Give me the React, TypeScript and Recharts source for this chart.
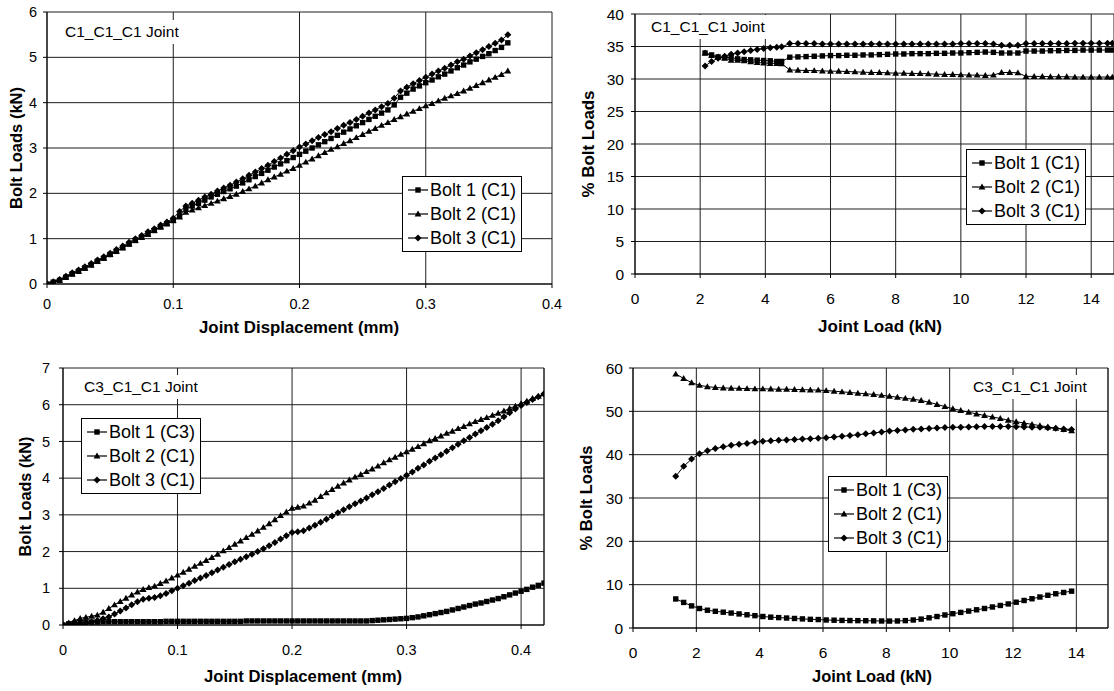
import {
  LineChart,
  Line,
  XAxis,
  YAxis,
  CartesianGrid,
  Legend,
  ReferenceLine,
} from "recharts";

const FONT = "'Liberation Sans', Arial, Helvetica, sans-serif";
const INK = "#000000";
const GRID = "#1e1e1e";

// top left: C1_C1_C1 joint, bolt load (kN) vs joint displacement (mm)
const dispC1 = [
  0, 0.005, 0.01, 0.015, 0.02, 0.025, 0.03, 0.035, 0.04, 0.045,
  0.05, 0.055, 0.06, 0.065, 0.07, 0.075, 0.08, 0.085, 0.09, 0.095,
  0.1, 0.105, 0.11, 0.115, 0.12, 0.125, 0.13, 0.135, 0.14, 0.145,
  0.15, 0.155, 0.16, 0.165, 0.17, 0.175, 0.18, 0.185, 0.19, 0.195,
  0.2, 0.205, 0.21, 0.215, 0.22, 0.225, 0.23, 0.235, 0.24, 0.245,
  0.25, 0.255, 0.26, 0.265, 0.27, 0.275, 0.28, 0.285, 0.29, 0.295,
  0.3, 0.305, 0.31, 0.315, 0.32, 0.325, 0.33, 0.335, 0.34, 0.345,
  0.35, 0.355, 0.36, 0.365,
];
const loadC1Bolt1 = [
  0, 0.04, 0.08, 0.15, 0.22, 0.28, 0.35, 0.42, 0.5, 0.57,
  0.65, 0.72, 0.8, 0.88, 0.96, 1.03, 1.1, 1.18, 1.26, 1.33,
  1.4, 1.5, 1.65, 1.72, 1.78, 1.85, 1.92, 1.98, 2.04, 2.1,
  2.16, 2.23, 2.3, 2.37, 2.44, 2.51, 2.58, 2.65, 2.72, 2.79,
  2.86, 2.93, 3.0, 3.07, 3.14, 3.21, 3.28, 3.35, 3.42, 3.49,
  3.56, 3.63, 3.7, 3.77, 3.84, 3.95, 4.12, 4.21, 4.3, 4.37,
  4.44, 4.5, 4.57, 4.63, 4.7, 4.77, 4.83, 4.9, 4.96, 5.02,
  5.08, 5.15, 5.22, 5.32,
];
const loadC1Bolt2 = [
  0, 0.04, 0.08, 0.15, 0.22, 0.28, 0.35, 0.42, 0.5, 0.57,
  0.65, 0.72, 0.8, 0.88, 0.96, 1.03, 1.1, 1.18, 1.26, 1.33,
  1.4, 1.48, 1.58, 1.63, 1.68, 1.73, 1.78, 1.83, 1.88, 1.93,
  1.98, 2.04, 2.1, 2.16, 2.23, 2.3, 2.36, 2.42, 2.49, 2.55,
  2.62, 2.69, 2.76, 2.83, 2.9, 2.97, 3.03, 3.1, 3.16, 3.23,
  3.3, 3.37, 3.43, 3.5, 3.56, 3.63, 3.69, 3.75, 3.81, 3.87,
  3.93, 3.98, 4.04, 4.1, 4.15, 4.2, 4.26, 4.32, 4.38, 4.44,
  4.5, 4.56, 4.62, 4.7,
];
const loadC1Bolt3 = [
  0, 0.05, 0.1, 0.17, 0.25, 0.31, 0.38, 0.45, 0.53, 0.6,
  0.68, 0.76, 0.84, 0.92, 1.0, 1.07, 1.15, 1.22, 1.3, 1.37,
  1.45, 1.6, 1.72, 1.78, 1.85, 1.92, 1.98, 2.05, 2.12, 2.18,
  2.25, 2.32, 2.4, 2.47, 2.55, 2.62, 2.7, 2.78, 2.86, 2.94,
  3.02, 3.09, 3.16, 3.23, 3.3, 3.36, 3.43, 3.5, 3.56, 3.63,
  3.7, 3.77, 3.84, 3.91, 3.98, 4.1, 4.26, 4.34, 4.42, 4.49,
  4.56, 4.63, 4.7, 4.76, 4.83, 4.9, 4.96, 5.03, 5.1, 5.17,
  5.24, 5.31, 5.38, 5.5,
];

// top right: C1_C1_C1 joint, % bolt load vs joint load (kN)
const jointLoadC1 = [
  2.15, 2.35, 2.55, 2.75, 2.95, 3.15, 3.35, 3.55, 3.75, 3.95, 4.15, 4.35, 4.5, 4.75, 5, 5.25, 5.5, 5.75, 6, 6.25,
  6.5, 6.75, 7, 7.25, 7.5, 7.75, 8, 8.25, 8.5, 8.75, 9, 9.25, 9.5, 9.75, 10, 10.25, 10.5, 10.75, 11, 11.25, 11.5,
  11.75, 12, 12.25, 12.5, 12.75, 13, 13.25, 13.5, 13.75, 14, 14.25, 14.5, 14.65,
];
const pctC1Bolt1 = [
  34.0, 33.7, 33.4, 33.3, 33.3, 33.1, 33.0, 32.95, 32.9, 32.85, 32.8, 32.7, 32.7, 33.35, 33.4, 33.45, 33.5, 33.55,
  33.6, 33.6, 33.65, 33.65, 33.7, 33.7, 33.75, 33.8, 33.85, 33.85, 33.9, 33.9, 33.9, 33.95, 33.95, 34.0, 34.0,
  34.05, 34.1, 34.15, 34.1, 34.0, 34.0, 34.0, 34.3, 34.3, 34.3, 34.35, 34.35, 34.4, 34.4, 34.45, 34.45, 34.45,
  34.45, 34.45,
];
const pctC1Bolt2 = [
  34.0, 33.6, 33.4, 33.2, 32.9, 32.9, 32.8, 32.65, 32.55, 32.45, 32.4, 32.4, 32.35, 31.4, 31.35, 31.3, 31.3, 31.25,
  31.2, 31.2, 31.15, 31.1, 31.05, 31.0, 31.0, 30.95, 30.9, 30.9, 30.85, 30.85, 30.8, 30.75, 30.7, 30.7, 30.65,
  30.6, 30.6, 30.55, 30.6, 31.0, 31.0, 30.95, 30.4, 30.4, 30.4, 30.35, 30.35, 30.35, 30.3, 30.3, 30.3, 30.3, 30.3,
  30.3,
];
const pctC1Bolt3 = [
  32.0, 32.7, 33.2, 33.5, 33.8, 34.0, 34.2, 34.4, 34.55, 34.7, 34.8, 34.9, 34.95, 35.45, 35.45, 35.45, 35.45, 35.4,
  35.4, 35.4, 35.4, 35.4, 35.4, 35.4, 35.4, 35.4, 35.4, 35.4, 35.4, 35.4, 35.4, 35.4, 35.4, 35.4, 35.45, 35.45,
  35.45, 35.45, 35.4, 35.2, 35.2, 35.2, 35.45, 35.45, 35.45, 35.45, 35.45, 35.45, 35.5, 35.5, 35.5, 35.5, 35.5,
  35.5,
];

// bottom left: C3_C1_C1 joint, bolt load (kN) vs joint displacement (mm)
const dispC3 = [
  0, 0.005, 0.01, 0.015, 0.02, 0.025, 0.03, 0.035, 0.04, 0.045,
  0.05, 0.055, 0.06, 0.065, 0.07, 0.075, 0.08, 0.085, 0.09, 0.095,
  0.1, 0.105, 0.11, 0.115, 0.12, 0.125, 0.13, 0.135, 0.14, 0.145,
  0.15, 0.155, 0.16, 0.165, 0.17, 0.175, 0.18, 0.185, 0.19, 0.195,
  0.2, 0.205, 0.21, 0.215, 0.22, 0.225, 0.23, 0.235, 0.24, 0.245,
  0.25, 0.255, 0.26, 0.265, 0.27, 0.275, 0.28, 0.285, 0.29, 0.295,
  0.3, 0.305, 0.31, 0.315, 0.32, 0.325, 0.33, 0.335, 0.34, 0.345,
  0.35, 0.355, 0.36, 0.365, 0.37, 0.375, 0.38, 0.385, 0.39, 0.395,
  0.4, 0.405, 0.41, 0.415, 0.42,
];
const loadC3Bolt1 = [
  0, 0.03, 0.05, 0.07, 0.08, 0.08, 0.08, 0.09, 0.09, 0.09,
  0.09, 0.09, 0.09, 0.09, 0.09, 0.09, 0.09, 0.09, 0.1, 0.1,
  0.1, 0.1, 0.1, 0.1, 0.1, 0.1, 0.1, 0.1, 0.1, 0.1,
  0.1, 0.1, 0.11, 0.11, 0.11, 0.11, 0.11, 0.11, 0.11, 0.11,
  0.11, 0.11, 0.11, 0.11, 0.11, 0.11, 0.11, 0.11, 0.11, 0.11,
  0.11, 0.11, 0.11, 0.11, 0.12, 0.13, 0.14, 0.15, 0.16, 0.17,
  0.18, 0.2, 0.22, 0.25, 0.28, 0.31, 0.34, 0.37, 0.41, 0.45,
  0.49, 0.53, 0.57, 0.6, 0.64, 0.68, 0.72, 0.77, 0.82, 0.87,
  0.92, 0.97, 1.03, 1.08, 1.14,
];
const loadC3Bolt2 = [
  0, 0.06, 0.12, 0.18, 0.21, 0.24, 0.27, 0.35, 0.45, 0.55,
  0.64, 0.73, 0.82, 0.9, 0.97, 1.02, 1.06, 1.13, 1.2, 1.28,
  1.36, 1.44, 1.52, 1.6, 1.68, 1.76, 1.84, 1.93, 2.02, 2.11,
  2.2, 2.29, 2.38, 2.47, 2.56, 2.66, 2.76, 2.87, 2.98, 3.08,
  3.18, 3.21, 3.24, 3.32, 3.4, 3.5, 3.6, 3.69, 3.78, 3.87,
  3.95, 4.03, 4.1, 4.18, 4.25, 4.33, 4.42, 4.5, 4.57, 4.65,
  4.72, 4.79, 4.86, 4.94, 5.02, 5.08, 5.15, 5.22, 5.28, 5.35,
  5.41, 5.48, 5.54, 5.6, 5.65, 5.71, 5.77, 5.83, 5.9, 5.96,
  6.03, 6.1, 6.17, 6.23, 6.3,
];
const loadC3Bolt3 = [
  0, 0.01, 0.02, 0.03, 0.05, 0.08, 0.12, 0.17, 0.22, 0.3,
  0.38, 0.46, 0.55, 0.63, 0.7, 0.73, 0.75, 0.8, 0.86, 0.93,
  1.0, 1.07, 1.14, 1.21, 1.28, 1.35, 1.42, 1.5, 1.57, 1.65,
  1.72, 1.79, 1.86, 1.93, 2.0, 2.08, 2.16, 2.25, 2.34, 2.43,
  2.52, 2.54, 2.57, 2.64, 2.72, 2.8, 2.88, 2.97, 3.06, 3.14,
  3.22, 3.3, 3.38, 3.46, 3.55, 3.63, 3.72, 3.81, 3.9, 3.99,
  4.08, 4.17, 4.27, 4.36, 4.46, 4.55, 4.64, 4.73, 4.83, 4.92,
  5.02, 5.11, 5.2, 5.29, 5.38, 5.47, 5.56, 5.67, 5.78, 5.88,
  5.98, 6.06, 6.14, 6.22, 6.3,
];

// bottom right: C3_C1_C1 joint, % bolt load vs joint load (kN)
const jointLoadC3 = [
  1.35, 1.6, 1.85, 2.1, 2.35, 2.6, 2.85, 3.1, 3.35, 3.6, 3.85, 4.1, 4.35, 4.6, 4.85, 5.1, 5.35, 5.6, 5.85, 6.1,
  6.35, 6.6, 6.85, 7.1, 7.35, 7.6, 7.85, 8.1, 8.35, 8.6, 8.85, 9.1, 9.35, 9.6, 9.85, 10.1, 10.35, 10.6, 10.85,
  11.1, 11.35, 11.6, 11.85, 12.1, 12.35, 12.6, 12.85, 13.1, 13.35, 13.6, 13.85,
];
const pctC3Bolt1 = [
  6.7, 5.9, 5.1, 4.5, 4.1, 3.85, 3.65, 3.45, 3.25, 3.05, 2.85, 2.65, 2.5, 2.4, 2.3, 2.2, 2.1, 2.0, 1.95, 1.85, 1.8,
  1.75, 1.72, 1.7, 1.68, 1.65, 1.62, 1.6, 1.62, 1.7, 1.85, 2.05, 2.35, 2.65, 3.0, 3.3, 3.6, 3.9, 4.2, 4.5, 4.85,
  5.2, 5.55, 5.95, 6.35, 6.75, 7.15, 7.55, 7.9, 8.2, 8.5,
];
const pctC3Bolt2 = [
  58.6, 57.6, 56.6, 56.0, 55.7, 55.5, 55.4, 55.35, 55.3, 55.25, 55.2, 55.2, 55.15, 55.1, 55.1, 55.05, 55.0, 54.95,
  54.9, 54.8, 54.65, 54.5, 54.35, 54.2, 54.05, 53.9, 53.7, 53.5, 53.25, 53.0, 52.8, 52.5, 52.1, 51.6, 51.1, 50.6,
  50.2, 49.8, 49.4, 49.05, 48.7, 48.35, 47.95, 47.6, 47.3, 47.0, 46.7, 46.4, 46.1, 45.8, 45.5,
];
const pctC3Bolt3 = [
  35.0, 37.3, 39.0, 40.2, 40.9, 41.4, 41.8, 42.15, 42.4, 42.6, 42.85, 43.1, 43.2, 43.3, 43.4, 43.5, 43.6, 43.7,
  43.8, 43.9, 44.05, 44.25, 44.4, 44.6, 44.8, 45.0, 45.25, 45.45, 45.6, 45.7, 45.85, 45.95, 46.05, 46.15, 46.25,
  46.3, 46.35, 46.4, 46.45, 46.5, 46.5, 46.5, 46.5, 46.45, 46.4, 46.35, 46.3, 46.2, 46.1, 45.95, 45.8,
];

const NAMES_C1 = ["Bolt 1 (C1)", "Bolt 2 (C1)", "Bolt 3 (C1)"];
const NAMES_C3 = ["Bolt 1 (C3)", "Bolt 2 (C1)", "Bolt 3 (C1)"];

type Row = { x: number; b1: number; b2: number; b3: number };
type Shape = "square" | "triangle" | "diamond";

const SHAPE_BY_KEY: Record<string, Shape> = { b1: "square", b2: "triangle", b3: "diamond" };

function toRows(xs: number[], a: number[], b: number[], c: number[]): Row[] {
  return xs.map((x, i) => ({ x, b1: a[i], b2: b[i], b3: c[i] }));
}

function Marker({ cx, cy, shape }: { cx: number; cy: number; shape: Shape }) {
  if (shape === "square") {
    return <rect x={cx - 2.7} y={cy - 2.7} width={5.4} height={5.4} fill={INK} />;
  }
  if (shape === "triangle") {
    return <polygon points={`${cx},${cy - 3.4} ${cx + 3.4},${cy + 2.5} ${cx - 3.4},${cy + 2.5}`} fill={INK} />;
  }
  return <polygon points={`${cx},${cy - 3.5} ${cx + 3.5},${cy} ${cx},${cy + 3.5} ${cx - 3.5},${cy}`} fill={INK} />;
}

const dotFor = (shape: Shape) => (p: any) => (
  <g key={`${shape}-${p.index}`}>
    {p.cx != null && p.cy != null ? <Marker cx={p.cx} cy={p.cy} shape={shape} /> : null}
  </g>
);

function BoltLegend({ payload }: any) {
  return (
    <div
      style={{
        border: `1px solid ${INK}`,
        background: "#fff",
        padding: "1px 5px 1px 3px",
        fontFamily: FONT,
        fontSize: 18,
        lineHeight: "24px",
        color: INK,
        whiteSpace: "nowrap",
      }}
    >
      {(payload ?? []).map((entry: any) => (
        <div key={entry.value} style={{ display: "flex", alignItems: "center", height: 24 }}>
          <svg width={23} height={24} style={{ marginRight: 1 }}>
            <line x1={2} y1={12} x2={22} y2={12} stroke={INK} strokeWidth={1.2} />
            <Marker cx={12} cy={12} shape={SHAPE_BY_KEY[entry.dataKey] ?? "square"} />
          </svg>
          <span>{entry.value}</span>
        </div>
      ))}
    </div>
  );
}

interface PanelProps {
  left: number;
  top: number;
  width: number;
  height: number;
  margin: { top: number; right: number; bottom: number; left: number };
  rows: Row[];
  names: string[];
  xDomain: [number, number];
  xTicks: number[];
  yDomain: [number, number];
  yTicks: number[];
  tickFont: number;
  xTickMargin: number;
  yTickMargin: number;
  xTitle: string;
  xTitleAt: [number, number];
  xTitleLen: number;
  yTitle: string;
  yTitleX: number;
  yTitleLen: number;
  legendAt: [number, number];
  note: string;
  noteAt: [number, number];
  frameRight: boolean;
}

function Panel(p: PanelProps) {
  const plotBottom = p.height - p.margin.bottom - 50;
  const yMid = (p.margin.top + plotBottom) / 2;
  const tick = { fontSize: p.tickFont, fill: INK, fontFamily: FONT };
  return (
    <div style={{ position: "absolute", left: p.left, top: p.top, width: p.width, height: p.height }}>
      <LineChart width={p.width} height={p.height} data={p.rows} margin={p.margin}>
        <CartesianGrid stroke={GRID} strokeWidth={1} />
        <XAxis
          type="number"
          dataKey="x"
          domain={p.xDomain}
          ticks={p.xTicks}
          interval={0}
          allowDataOverflow
          height={50}
          tick={tick}
          tickSize={4}
          tickMargin={p.xTickMargin}
          axisLine={{ stroke: INK }}
          tickLine={{ stroke: INK }}
          label={() => (
            <text
              x={p.xTitleAt[0]}
              y={p.xTitleAt[1]}
              textAnchor="middle"
              textLength={p.xTitleLen}
              lengthAdjust="spacingAndGlyphs"
              fontFamily={FONT}
              fontSize={16.5}
              fontWeight="bold"
              fill={INK}
            >
              {p.xTitle}
            </text>
          )}
        />
        <YAxis
          type="number"
          domain={p.yDomain}
          ticks={p.yTicks}
          interval={0}
          allowDataOverflow
          width={40}
          tick={tick}
          tickSize={4}
          tickMargin={p.yTickMargin}
          axisLine={{ stroke: INK }}
          tickLine={{ stroke: INK }}
          label={() => (
            <text
              x={p.yTitleX}
              y={yMid}
              transform={`rotate(-90 ${p.yTitleX} ${yMid})`}
              textAnchor="middle"
              dominantBaseline="central"
              textLength={p.yTitleLen}
              lengthAdjust="spacingAndGlyphs"
              fontFamily={FONT}
              fontSize={16.5}
              fontWeight="bold"
              fill={INK}
            >
              {p.yTitle}
            </text>
          )}
        />
        {p.frameRight && <ReferenceLine x={p.xDomain[1]} stroke={GRID} strokeWidth={1} />}
        <Legend
          layout="vertical"
          align="center"
          verticalAlign="middle"
          wrapperStyle={{ left: p.legendAt[0], top: p.legendAt[1], width: "auto", height: "auto" }}
          content={<BoltLegend />}
        />
        <Line
          type="linear"
          dataKey="b1"
          name={p.names[0]}
          stroke={INK}
          strokeWidth={1}
          dot={dotFor("square")}
          activeDot={false}
          isAnimationActive={false}
        />
        <Line
          type="linear"
          dataKey="b2"
          name={p.names[1]}
          stroke={INK}
          strokeWidth={1}
          dot={dotFor("triangle")}
          activeDot={false}
          isAnimationActive={false}
        />
        <Line
          type="linear"
          dataKey="b3"
          name={p.names[2]}
          stroke={INK}
          strokeWidth={1}
          dot={dotFor("diamond")}
          activeDot={false}
          isAnimationActive={false}
        />
      </LineChart>
      <div
        style={{
          position: "absolute",
          left: p.noteAt[0],
          top: p.noteAt[1],
          background: "#fff",
          padding: "2px 3px",
          fontFamily: FONT,
          fontSize: 15.5,
          lineHeight: "20px",
          color: INK,
          whiteSpace: "nowrap",
        }}
      >
        {p.note}
      </div>
    </div>
  );
}

export default function App() {
  return (
    <div
      style={{
        position: "fixed",
        left: 0,
        top: 0,
        width: 1114,
        height: 691,
        background: "#fff",
        overflow: "hidden",
        fontFamily: FONT,
      }}
    >
      <Panel
        left={0}
        top={0}
        width={570}
        height={345}
        margin={{ top: 12, right: 18, bottom: 11, left: 7 }}
        rows={toRows(dispC1, loadC1Bolt1, loadC1Bolt2, loadC1Bolt3)}
        names={NAMES_C1}
        xDomain={[0, 0.4]}
        xTicks={[0, 0.1, 0.2, 0.3, 0.4]}
        yDomain={[0, 6]}
        yTicks={[0, 1, 2, 3, 4, 5, 6]}
        tickFont={14.5}
        xTickMargin={11}
        yTickMargin={6}
        xTitle="Joint Displacement (mm)"
        xTitleAt={[299, 333]}
        xTitleLen={200}
        yTitle="Bolt Loads (kN)"
        yTitleX={16}
        yTitleLen={122}
        legendAt={[402, 176]}
        note="C1_C1_C1 Joint"
        noteAt={[62, 20]}
        frameRight={false}
      />
      <Panel
        left={560}
        top={0}
        width={554}
        height={345}
        margin={{ top: 14, right: 0, bottom: 21, left: 35 }}
        rows={toRows(jointLoadC1, pctC1Bolt1, pctC1Bolt2, pctC1Bolt3)}
        names={NAMES_C1}
        xDomain={[0, 14.7]}
        xTicks={[0, 2, 4, 6, 8, 10, 12, 14]}
        yDomain={[0, 40]}
        yTicks={[0, 5, 10, 15, 20, 25, 30, 35, 40]}
        tickFont={15.5}
        xTickMargin={15}
        yTickMargin={7}
        xTitle="Joint Load (kN)"
        xTitleAt={[320, 332]}
        xTitleLen={124}
        yTitle="% Bolt Loads"
        yTitleX={28}
        yTitleLen={107}
        legendAt={[406, 149]}
        note="C1_C1_C1 Joint"
        noteAt={[88, 15]}
        frameRight={false}
      />
      <Panel
        left={0}
        top={345}
        width={560}
        height={346}
        margin={{ top: 23, right: 16, bottom: 16, left: 23 }}
        rows={toRows(dispC3, loadC3Bolt1, loadC3Bolt2, loadC3Bolt3)}
        names={NAMES_C3}
        xDomain={[0, 0.42]}
        xTicks={[0, 0.1, 0.2, 0.3, 0.4]}
        yDomain={[0, 7]}
        yTicks={[0, 1, 2, 3, 4, 5, 6, 7]}
        tickFont={14.5}
        xTickMargin={16}
        yTickMargin={9}
        xTitle="Joint Displacement (mm)"
        xTitleAt={[303, 337]}
        xTitleLen={198}
        yTitle="Bolt Loads (kN)"
        yTitleX={25}
        yTitleLen={120}
        legendAt={[81, 73]}
        note="C3_C1_C1 Joint"
        noteAt={[81, 30]}
        frameRight
      />
      <Panel
        left={560}
        top={345}
        width={554}
        height={346}
        margin={{ top: 23, right: 6, bottom: 13, left: 33 }}
        rows={toRows(jointLoadC3, pctC3Bolt1, pctC3Bolt2, pctC3Bolt3)}
        names={NAMES_C3}
        xDomain={[0, 15]}
        xTicks={[0, 2, 4, 6, 8, 10, 12, 14]}
        yDomain={[0, 60]}
        yTicks={[0, 10, 20, 30, 40, 50, 60]}
        tickFont={15.5}
        xTickMargin={15}
        yTickMargin={6}
        xTitle="Joint Load (kN)"
        xTitleAt={[312, 337]}
        xTitleLen={120}
        yTitle="% Bolt Loads"
        yTitleX={26}
        yTitleLen={105}
        legendAt={[268, 131]}
        note="C3_C1_C1 Joint"
        noteAt={[410, 30]}
        frameRight
      />
    </div>
  );
}
